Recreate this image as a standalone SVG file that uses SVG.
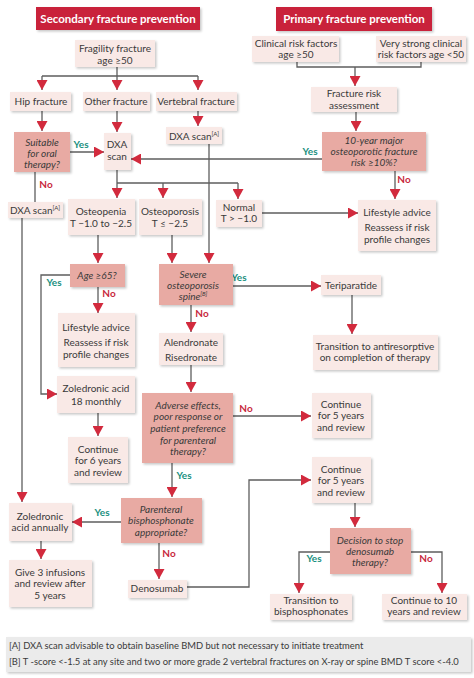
<svg xmlns="http://www.w3.org/2000/svg" width="474" height="678" viewBox="0 0 474 678">
<style>
.lb{fill:#f9e9e6;filter:url(#sh)}
.db{fill:#e8aaa3;filter:url(#sh)}
.hb{fill:#c9243a;filter:url(#sh)}
text{font-family:Lato,"Noto Sans","DejaVu Sans",sans-serif;font-size:10px;fill:#3a3a3a;text-anchor:middle}
.i{font-style:italic}
.h{fill:#fff;font-weight:bold;font-size:11.5px}
.y{fill:#1a8f7e;font-weight:bold}
.n{fill:#c8283c;font-weight:bold}
.s{font-size:6px}
.c path{stroke:#5e5e5e;stroke-width:1.3;fill:none}
.c .a{marker-end:url(#ah)}
.fn{text-anchor:start;font-size:9.4px}
</style>
<defs>
<filter id="sh" x="-10%" y="-10%" width="130%" height="140%">
<feDropShadow dx="1.5" dy="1.5" stdDeviation="1.2" flood-color="#000" flood-opacity="0.22"/>
</filter>
<marker id="ah" markerUnits="userSpaceOnUse" viewBox="0 0 10 11" markerWidth="10" markerHeight="11" refX="10" refY="5.5" orient="auto">
<path d="M0,0 L10,5.5 L0,11 z" fill="#d22a3d"/>
</marker>
</defs>

<g id="connectors" class="c">
<path d="M117,67 V76 M42,76 H198"/>
<path class="a" d="M42,76 V90"/>
<path class="a" d="M117,76 V90"/>
<path class="a" d="M198,76 V90"/>
<path class="a" d="M42,111 V131"/>
<path class="a" d="M117,111 V132"/>
<path class="a" d="M198,111 V126"/>
<path class="a" d="M70,152 H104"/>
<path class="a" d="M322,159 H131"/>
<path d="M117,183 H238"/>
<path class="a" d="M117,170 V198"/>
<path class="a" d="M163,183 V198"/>
<path class="a" d="M238,183 V199"/>
<path class="a" d="M262,213 H358"/>
<path d="M297,62 V67 H421 V62"/>
<path class="a" d="M355,67 V86"/>
<path class="a" d="M356,112 V131"/>
<path class="a" d="M395,171 V199"/>
<path d="M35,172 V202"/>
<path class="a" d="M22,218 V502"/>
<path class="a" d="M98,235 V263"/>
<path class="a" d="M70,275 H41 V394 H57"/>
<path class="a" d="M98,287 V313"/>
<path class="a" d="M98,413 V436"/>
<path class="a" d="M172,235 V263"/>
<path class="a" d="M209,144 V263"/>
<path class="a" d="M233,286 H321"/>
<path class="a" d="M352,295 V334"/>
<path class="a" d="M191,305 V332"/>
<path class="a" d="M191,365 V392"/>
<path class="a" d="M233,416 H311"/>
<path class="a" d="M172,463 V497"/>
<path class="a" d="M121,522 H72"/>
<path class="a" d="M41,541 V559"/>
<path class="a" d="M159,543 V579"/>
<path class="a" d="M187,587 H249 V480 H311"/>
<path class="a" d="M355,503 V527"/>
<path class="a" d="M330,552 H299 V593"/>
<path class="a" d="M411,552 H442 V593"/>
</g>

<g id="labels">
<text class="y" x="81" y="148">Yes</text>
<text class="y" x="310" y="155">Yes</text>
<text class="n" x="404" y="183">No</text>
<text class="n" x="46" y="188">No</text>
<text class="y" x="54" y="286">Yes</text>
<text class="n" x="109" y="297">No</text>
<text class="y" x="239" y="281">Yes</text>
<text class="n" x="202" y="317">No</text>
<text class="n" x="246" y="412">No</text>
<text class="y" x="184" y="479">Yes</text>
<text class="y" x="102" y="516">Yes</text>
<text class="n" x="169" y="557">No</text>
<text class="y" x="314" y="562">Yes</text>
<text class="n" x="426" y="562">No</text>
</g>

<g id="hdr-secondary"><rect class="hb" x="36" y="7" width="164" height="23"/><text class="h" x="118" y="23">Secondary fracture prevention</text></g>
<g id="hdr-primary"><rect class="hb" x="276" y="7" width="156" height="24"/><text class="h" x="354" y="23">Primary fracture prevention</text></g>

<g id="fragility"><rect class="lb" x="75" y="40" width="80" height="27"/><text x="115" y="52">Fragility fracture</text><text x="115" y="64">age ≥50</text></g>
<g id="hip"><rect class="lb" x="10" y="92" width="61" height="19"/><text x="41" y="105">Hip fracture</text></g>
<g id="other"><rect class="lb" x="83" y="92" width="67" height="19"/><text x="116" y="105">Other fracture</text></g>
<g id="vertebral"><rect class="lb" x="156" y="92" width="81" height="19"/><text x="196" y="105">Vertebral fracture</text></g>
<g id="dxa-vert"><rect class="lb" x="166" y="127" width="56" height="17"/><text x="194" y="140">DXA scan<tspan class="s" dy="-4">[A]</tspan></text></g>
<g id="suitable"><rect class="db" x="14" y="132" width="56" height="40"/><text class="i" x="42" y="146">Suitable</text><text class="i" x="42" y="157">for oral</text><text class="i" x="42" y="168">therapy?</text></g>
<g id="dxa"><rect class="lb" x="104" y="133" width="27" height="37"/><text x="117" y="148">DXA</text><text x="117" y="160">scan</text></g>

<g id="clinical"><rect class="lb" x="252" y="36" width="87" height="26"/><text x="296" y="47">Clinical risk factors</text><text x="296" y="58">age ≥50</text></g>
<g id="very-strong"><rect class="lb" x="376" y="36" width="90" height="26"/><text x="421" y="47">Very strong clinical</text><text x="421" y="58">risk factors age &lt;50</text></g>
<g id="risk-assess"><rect class="lb" x="311" y="87" width="86" height="25"/><text x="354" y="97">Fracture risk</text><text x="354" y="108.5">assessment</text></g>
<g id="ten-year"><rect class="db" x="322" y="132" width="104" height="39"/><text class="i" x="374" y="144">10-year major</text><text class="i" x="374" y="155">osteoporotic fracture</text><text class="i" x="374" y="166">risk ≥10%?</text></g>
<g id="lifestyle-r"><rect class="lb" x="358" y="200" width="78" height="51"/><text x="397" y="216">Lifestyle advice</text><text x="397" y="231">Reassess if risk</text><text x="397" y="243">profile changes</text></g>

<g id="dxa-left"><rect class="lb" x="8" y="202" width="55" height="16"/><text x="35" y="214">DXA scan<tspan class="s" dy="-4">[A]</tspan></text></g>
<g id="osteopenia"><rect class="lb" x="68" y="199" width="67" height="36"/><text x="101" y="215">Osteopenia</text><text x="101" y="227">T −1.0 to −2.5</text></g>
<g id="osteoporosis"><rect class="lb" x="139" y="199" width="63" height="36"/><text x="170" y="215">Osteoporosis</text><text x="170" y="227">T ≤ −2.5</text></g>
<g id="normal"><rect class="lb" x="216" y="200" width="46" height="27"/><text x="239" y="211">Normal</text><text x="239" y="222">T &gt; −1.0</text></g>

<g id="age65"><rect class="db" x="70" y="264" width="55" height="23"/><text class="i" x="97" y="279">Age ≥65?</text></g>
<g id="lifestyle-l"><rect class="lb" x="58" y="313" width="77" height="54"/><text x="96" y="331">Lifestyle advice</text><text x="96" y="346">Reassess if risk</text><text x="96" y="358">profile changes</text></g>
<g id="zol18"><rect class="lb" x="57" y="376" width="78" height="37"/><text x="96" y="392">Zoledronic acid</text><text x="96" y="405">18 monthly</text></g>
<g id="cont6"><rect class="lb" x="68" y="437" width="60" height="46"/><text x="98" y="453">Continue</text><text x="98" y="464">for 6 years</text><text x="98" y="476">and review</text></g>

<g id="severe"><rect class="db" x="159" y="264" width="74" height="41"/><text class="i" x="193" y="278">Severe</text><text class="i" x="193" y="289">osteoporosis</text><text class="i" x="193" y="300">spine<tspan class="s" dy="-4">[B]</tspan></text></g>
<g id="teriparatide"><rect class="lb" x="321" y="275" width="60" height="20"/><text x="351" y="289">Teriparatide</text></g>
<g id="transition-anti"><rect class="lb" x="313" y="335" width="125" height="35"/><text x="375" y="350">Transition to antiresorptive</text><text x="375" y="361">on completion of therapy</text></g>
<g id="alendronate"><rect class="lb" x="159" y="333" width="64" height="32"/><text x="191" y="346">Alendronate</text><text x="191" y="361">Risedronate</text></g>
<g id="adverse"><rect class="db" x="142" y="393" width="91" height="70"/><text class="i" x="188" y="409">Adverse effects,</text><text class="i" x="188" y="420">poor response or</text><text class="i" x="188" y="432">patient preference</text><text class="i" x="188" y="444">for parenteral</text><text class="i" x="188" y="455">therapy?</text></g>
<g id="cont5a"><rect class="lb" x="312" y="393" width="59" height="45"/><text x="341" y="408">Continue</text><text x="341" y="419">for 5 years</text><text x="341" y="431">and review</text></g>
<g id="parenteral"><rect class="db" x="121" y="498" width="81" height="45"/><text class="i" x="161" y="513">Parenteral</text><text class="i" x="161" y="524">bisphosphonate</text><text class="i" x="161" y="536">appropriate?</text></g>
<g id="zol-annual"><rect class="lb" x="9" y="503" width="63" height="38"/><text x="40" y="520">Zoledronic</text><text x="40" y="531">acid annually</text></g>
<g id="give3"><rect class="lb" x="9" y="560" width="83" height="47"/><text x="50" y="576">Give 3 infusions</text><text x="50" y="587">and review after</text><text x="50" y="598.5">5 years</text></g>
<g id="denosumab"><rect class="lb" x="128" y="580" width="59" height="18"/><text x="157" y="592">Denosumab</text></g>
<g id="cont5b"><rect class="lb" x="312" y="457" width="59" height="46"/><text x="341" y="473">Continue</text><text x="341" y="484">for 5 years</text><text x="341" y="496">and review</text></g>
<g id="decision"><rect class="db" x="330" y="528" width="81" height="46"/><text class="i" x="370" y="544">Decision to stop</text><text class="i" x="370" y="555">denosumab</text><text class="i" x="370" y="566">therapy?</text></g>
<g id="transition-bis"><rect class="lb" x="270" y="594" width="82" height="26"/><text x="311" y="604">Transition to</text><text x="311" y="615">bisphosphonates</text></g>
<g id="cont10"><rect class="lb" x="382" y="594" width="85" height="26"/><text x="424" y="604">Continue to 10</text><text x="424" y="615">years and review</text></g>

<g id="footnotes"><rect x="6" y="637" width="465" height="35" fill="#ebebeb" filter="url(#sh)"/>
<text class="fn" x="9" y="649">[A] DXA scan advisable to obtain baseline BMD but not necessary to initiate treatment</text>
<text class="fn" x="9" y="665">[B] T -score &lt;-1.5 at any site and two or more grade 2 vertebral fractures on X-ray or spine BMD T score &lt;-4.0</text>
</g>
</svg>
